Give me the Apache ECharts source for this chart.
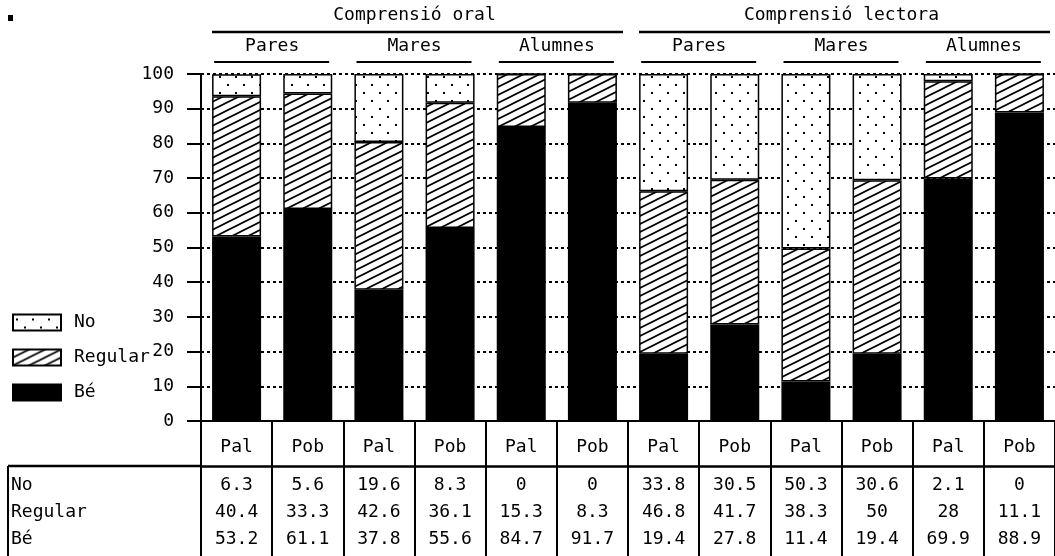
<!DOCTYPE html>
<html>
<head>
<meta charset="utf-8">
<script src="https://cdn.jsdelivr.net/npm/echarts@6/dist/echarts.min.js"></script>
<style>
html,body{margin:0;padding:0;background:#fff;}
#chart{width:1055px;height:556px;}
</style>
</head>
<body>
<div id="chart"></div>
<script>
// ---- data ----
const groups = ['Comprensió oral', 'Comprensió lectora'];
const subgroups = ['Pares', 'Mares', 'Alumnes'];
const towns = ['Pal', 'Pob'];
const seriesNames = ['No', 'Regular', 'Bé'];
const noVals = [6.3, 5.6, 19.6, 8.3, 0, 0, 33.8, 30.5, 50.3, 30.6, 2.1, 0];
const regularVals = [40.4, 33.3, 42.6, 36.1, 15.3, 8.3, 46.8, 41.7, 38.3, 50, 28, 11.1];
const beVals = [53.2, 61.1, 37.8, 55.6, 84.7, 91.7, 19.4, 27.8, 11.4, 19.4, 69.9, 88.9];
const yMin = 0, yMax = 100, yStep = 10;

// categories (unique keys), displayed as town names
const catKeys = [], catLabels = [];
groups.forEach(g => subgroups.forEach(s => towns.forEach(t => {
  catKeys.push(g + '|' + s + '|' + t);
  catLabels.push(t);
})));

const FONT = 'DejaVu Sans Mono';
const FS = 18;

// ---- patterns ----
function dotPattern() {
  const c = document.createElement('canvas');
  c.width = 16; c.height = 16;
  const x = c.getContext('2d');
  x.fillStyle = '#fff'; x.fillRect(0, 0, 16, 16);
  x.fillStyle = '#000';
  x.fillRect(3, 4, 2, 2);
  x.fillRect(11, 12, 2, 2);
  return c;
}
function hatchPattern() {
  const c = document.createElement('canvas');
  c.width = 16; c.height = 8;
  const x = c.getContext('2d');
  x.fillStyle = '#fff'; x.fillRect(0, 0, 16, 8);
  x.strokeStyle = '#000'; x.lineWidth = 1.7;
  [-8, 0, 8].forEach(d => {
    x.beginPath();
    x.moveTo(-16, 16 + d);
    x.lineTo(32, -8 + d);
    x.stroke();
  });
  return c;
}
const fills = {
  'No': { image: dotPattern(), repeat: 'repeat' },
  'Regular': { image: hatchPattern(), repeat: 'repeat' },
  'Bé': '#000'
};
const valsBy = { 'No': noVals, 'Regular': regularVals, 'Bé': beVals };

const chart = echarts.init(document.getElementById('chart'), null, { renderer: 'canvas' });

const stackOrder = ['Bé', 'Regular', 'No'];
const series = stackOrder.map(name => ({
  name: name,
  type: 'bar',
  stack: 'total',
  barWidth: 49,
  data: valsBy[name],
  itemStyle: { color: fills[name], borderColor: '#000', borderWidth: 1.5 },
  emphasis: { disabled: true }
}));

const option = {
  animation: false,
  backgroundColor: '#fff',
  textStyle: { fontFamily: FONT, color: '#000' },
  legend: {
    orient: 'vertical',
    left: 7, top: 307,
    data: seriesNames,
    icon: 'rect',
    itemWidth: 48, itemHeight: 16,
    itemGap: 14,
    selectedMode: false,
    textStyle: { fontFamily: FONT, fontSize: FS, color: '#000', padding: [0, 0, 0, 8], lineHeight: 21 }
  },
  grid: { left: 201, top: 74, width: 862, height: 347, containLabel: false },
  xAxis: [
    {
      type: 'category', data: catKeys, position: 'bottom',
      axisLine: { show: true, lineStyle: { color: '#000', width: 2 } },
      axisTick: { show: true, length: 45, interval: 0, alignWithLabel: false, lineStyle: { color: '#000', width: 2 } },
      axisLabel: {
        interval: 0, margin: 17,
        formatter: (v, i) => catLabels[i],
        fontFamily: FONT, fontSize: FS, color: '#000'
      },
      splitLine: { show: false }
    },
    {
      type: 'category', data: catKeys, position: 'bottom', offset: 45,
      axisLine: { show: true, lineStyle: { color: '#000', width: 2.5 } },
      axisTick: { show: true, length: 100, interval: 0, alignWithLabel: false, lineStyle: { color: '#000', width: 2 } },
      axisLabel: {
        interval: 0, margin: 6,
        formatter: (v, i) => noVals[i] + '\n' + regularVals[i] + '\n' + beVals[i],
        fontFamily: FONT, fontSize: FS, color: '#000', lineHeight: 27
      },
      splitLine: { show: false }
    }
  ],
  yAxis: {
    type: 'value', min: yMin, max: yMax, interval: yStep,
    axisLine: { show: true, lineStyle: { color: '#000', width: 2 } },
    axisTick: { show: true, length: 14, lineStyle: { color: '#000', width: 2 } },
    axisLabel: { margin: 27, fontFamily: FONT, fontSize: FS, color: '#000' },
    splitLine: { show: true, lineStyle: { color: '#000', width: 2, type: [3, 3] } }
  },
  series: series
};
chart.setOption(option);

// ---- headers and table decorations ----
const px = i => chart.convertToPixel({ xAxisIndex: 0 }, i);
const bw = px(1) - px(0);
const font = FS + 'px "' + FONT + '"';
const graphics = [];
groups.forEach((g, gi) => {
  const a = gi * 6, b = gi * 6 + 5;
  const c = (px(a) + px(b)) / 2;
  graphics.push({ type: 'text', x: c, y: 15, style: { text: g, font: font, fill: '#000', textAlign: 'center', textVerticalAlign: 'middle' } });
  graphics.push({ type: 'line', shape: { x1: c - 3 * bw + 11, y1: 32, x2: c + 3 * bw - 5, y2: 32 }, style: { stroke: '#000', lineWidth: 2.5 } });
  subgroups.forEach((s, si) => {
    const k = a + si * 2;
    const sc = (px(k) + px(k + 1)) / 2;
    graphics.push({ type: 'text', x: sc, y: 46, style: { text: s, font: font, fill: '#000', textAlign: 'center', textVerticalAlign: 'middle' } });
    graphics.push({ type: 'line', shape: { x1: sc - 58, y1: 62, x2: sc + 57, y2: 62 }, style: { stroke: '#000', lineWidth: 2 } });
  });
});

// table frame on the left
const tableTop = 466;
graphics.push({ type: 'line', shape: { x1: 8, y1: tableTop, x2: 202, y2: tableTop }, style: { stroke: '#000', lineWidth: 2.5 } });
graphics.push({ type: 'line', shape: { x1: 8, y1: tableTop, x2: 8, y2: 560 }, style: { stroke: '#000', lineWidth: 2 } });
graphics.push({
  type: 'text', x: 11, y: tableTop + 6,
  style: { text: seriesNames.join('\n'), font: font, fill: '#000', textAlign: 'left', textVerticalAlign: 'top', lineHeight: 27 }
});
// small marker at top-left
graphics.push({ type: 'rect', shape: { x: 8, y: 15, width: 5, height: 6 }, style: { fill: '#000' } });

chart.setOption({ graphic: graphics });
</script>
</body>
</html>
